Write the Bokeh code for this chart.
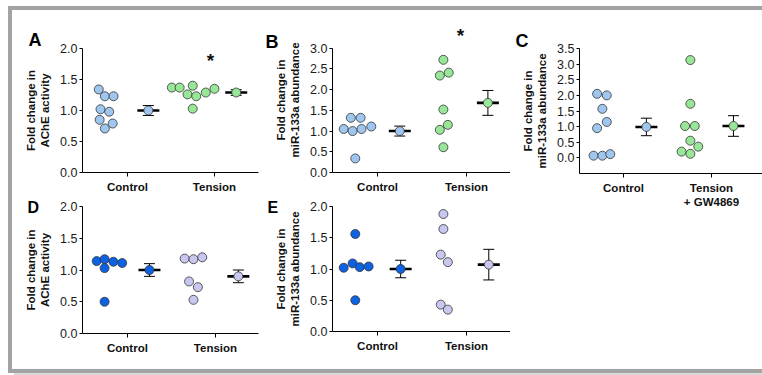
from bokeh.plotting import figure
from bokeh.layouts import row, column
from bokeh.models import (FixedTicker, Whisker, TeeHead, ColumnDataSource, Title,
                          NumeralTickFormatter, Range1d)
from bokeh.embed import file_html
from bokeh.resources import INLINE
from bokeh.core.properties import value

FONT = "Liberation Sans"
LIGHT_BLUE = "#9ec6ef"
GREEN = "#98e698"
DARK_BLUE = "#0d62e3"
LAVENDER = "#c7c7f0"
OUTLINE = "#333333"
FRAME_GRAY = "#a3a3a3"

# ---------------- data ----------------
tick_labels_ab = ["Control", "Tension"]
tick_labels_c = ["Control", "Tension\n+ GW4869"]

# Panel A: AChE activity
a_ctrl_x = [0.67, 0.74, 0.84, 0.69, 0.79, 0.68, 0.83, 0.74]
a_ctrl_y = [1.34, 1.23, 1.23, 1.02, 0.98, 0.85, 0.79, 0.71]
a_tens_x = [1.51, 1.60, 1.75, 1.69, 1.79, 1.90, 2.00, 1.75]
a_tens_y = [1.37, 1.37, 1.40, 1.26, 1.23, 1.29, 1.35, 1.03]
a_mean_x = [1.24, 2.25]
a_mean = [1.00, 1.29]
a_sem = [0.08, 0.045]
a_star = ([1.954], [1.81])

# Panel B: miR-133a abundance
b_ctrl_x = [0.62, 0.70, 0.81, 0.72, 0.82, 0.93, 0.75]
b_ctrl_y = [1.05, 1.32, 1.32, 1.00, 1.05, 1.11, 0.34]
b_tens_x = [1.74, 1.70, 1.80, 1.74, 1.70, 1.79, 1.74]
b_tens_y = [2.72, 2.34, 2.41, 1.52, 1.03, 1.15, 0.61]
b_mean_x = [1.25, 2.24]
b_mean = [1.00, 1.68]
b_sem = [0.12, 0.30]
b_star = ([1.932], [3.31])

# Panel C: miR-133a abundance, Tension + GW4869
c_ctrl_x = [0.66, 0.76, 0.85, 0.70, 0.81, 0.76, 0.70, 0.81]
c_ctrl_y = [0.07, 0.07, 0.12, 0.95, 1.15, 1.57, 2.05, 2.00]
c_tens_x = [1.76, 1.76, 1.70, 1.81, 1.76, 1.66, 1.76, 1.85]
c_tens_y = [3.13, 1.73, 1.02, 1.02, 0.55, 0.20, 0.13, 0.36]
c_mean_x = [1.26, 2.25]
c_mean = [0.99, 1.02]
c_sem = [0.28, 0.33]

# Panel D: AChE activity
d_ctrl_x = [0.65, 0.74, 0.84, 0.94, 0.74, 0.74]
d_ctrl_y = [1.14, 1.17, 1.13, 1.11, 1.03, 0.50]
d_tens_x = [1.65, 1.75, 1.85, 1.70, 1.80, 1.75]
d_tens_y = [1.18, 1.17, 1.20, 0.82, 0.73, 0.53]
d_mean_x = [1.25, 2.26]
d_mean = [1.00, 0.90]
d_sem = [0.10, 0.10]

# Panel E: miR-133a abundance
e_ctrl_x = [0.62, 0.72, 0.80, 0.90, 0.75, 0.75]
e_ctrl_y = [1.02, 1.09, 1.03, 1.04, 1.56, 0.50]
e_tens_x = [1.74, 1.74, 1.71, 1.79, 1.71, 1.79]
e_tens_y = [1.88, 1.64, 1.23, 1.11, 0.43, 0.35]
e_mean_x = [1.26, 2.25]
e_mean = [1.00, 1.07]
e_sem = [0.14, 0.245]


def make_panel(width, height, mb, xr, yr, yticks, ylabel, xlabels,
               groups, mean_x, means, sems, letter, letter_offset, letter_standoff,
               letter_size, ybounds=None, star=None):
    p = figure(width=width, height=height, x_range=Range1d(*xr), y_range=Range1d(*yr),
               output_backend="svg", toolbar_location=None,
               min_border_left=mb[0], min_border_right=mb[1],
               min_border_top=mb[2], min_border_bottom=mb[3])
    p.frame_align = False
    p.outline_line_color = None
    p.xgrid.visible = False
    p.ygrid.visible = False
    p.background_fill_color = "white"
    p.border_fill_color = "white"

    # x axis
    p.xaxis.ticker = FixedTicker(ticks=[1, 2])
    p.xaxis.major_label_overrides = {1: xlabels[0], 2: xlabels[1]}
    p.xaxis.major_label_text_font = FONT
    p.xaxis.major_label_text_font_size = "11.5px"
    p.xaxis.major_label_text_font_style = "bold"
    p.xaxis.major_label_text_color = "#111111"
    p.xaxis.major_tick_in = 0
    p.xaxis.major_tick_out = 4
    p.xaxis.minor_tick_line_color = None
    p.xaxis.major_label_standoff = 4
    p.xaxis.axis_line_color = "black"

    # y axis
    p.yaxis.ticker = FixedTicker(ticks=yticks)
    p.yaxis.formatter = NumeralTickFormatter(format="0.0")
    p.yaxis.major_label_text_font = FONT
    p.yaxis.major_label_text_font_size = "12.5px"
    p.yaxis.major_label_text_color = "#1a1a1a"
    p.yaxis.major_tick_in = 0
    p.yaxis.major_tick_out = 3
    p.yaxis.major_label_standoff = 2
    p.yaxis.minor_tick_line_color = None
    p.yaxis.axis_label = ylabel
    p.yaxis.axis_label_text_font = FONT
    p.yaxis.axis_label_text_font_size = "11.5px"
    p.yaxis.axis_label_text_font_style = "bold"
    p.yaxis.axis_label_text_color = "#111111"
    p.yaxis.axis_label_standoff = 6
    if ybounds is not None:
        p.yaxis.bounds = ybounds

    # error bars + means
    src = ColumnDataSource(dict(x=mean_x, m=means,
                                lo=[m - s for m, s in zip(means, sems)],
                                hi=[m + s for m, s in zip(means, sems)],
                                c=[g[2] for g in groups]))
    w = Whisker(source=src, base="x", lower="lo", upper="hi", dimension="height",
                line_color="black", line_width=1,
                upper_head=TeeHead(size=11, line_color="black", line_width=1),
                lower_head=TeeHead(size=11, line_color="black", line_width=1))
    p.add_layout(w)
    p.scatter("x", "m", source=src, marker="dash", size=22, line_width=2.6,
              line_color="black")
    for gx, gy, col in groups:
        p.scatter(gx, gy, size=9, fill_color=col, line_color=OUTLINE, line_width=0.8)
    p.scatter("x", "m", source=src, size=9, fill_color="c", line_color=OUTLINE,
              line_width=0.8)

    if star is not None:
        p.text(star[0], star[1], text=["*"], text_font=value(FONT),
               text_font_size="19px", text_font_style="bold", text_align="center",
               text_baseline="alphabetic", text_color="#111111")

    p.add_layout(Title(text=letter, align="left", offset=letter_offset,
                       standoff=letter_standoff, text_font=FONT,
                       text_font_size=letter_size, text_font_style="bold",
                       text_color="black"), "above")
    return p


pA = make_panel(250, 186, (70, 4, 38, 24), (0.483, 2.506), (0, 2.0),
                [0, 0.5, 1.0, 1.5, 2.0], "Fold change in\nAChE activity", tick_labels_ab,
                [(a_ctrl_x, a_ctrl_y, LIGHT_BLUE), (a_tens_x, a_tens_y, GREEN)],
                a_mean_x, a_mean, a_sem, "A", -54, -3, "18px", star=a_star)

pB = make_panel(248, 186, (70, 0, 17, 24), (0.494, 2.494), (0, 3.5),
                [0, 0.5, 1.0, 1.5, 2.0, 2.5, 3.0], "Fold change in\nmiR-133a abundance",
                tick_labels_ab,
                [(b_ctrl_x, b_ctrl_y, LIGHT_BLUE), (b_tens_x, b_tens_y, GREEN)],
                b_mean_x, b_mean, b_sem, "B", -67, -49, "18px",
                ybounds=(0, 3.0), star=b_star)

pC = make_panel(252, 359, (69, 0, 38, 196), (0.5, 2.58), (-0.5, 3.5),
                [0, 0.5, 1.0, 1.5, 2.0, 2.5, 3.0, 3.5], "Fold change in\nmiR-133a abundance",
                tick_labels_c,
                [(c_ctrl_x, c_ctrl_y, LIGHT_BLUE), (c_tens_x, c_tens_y, GREEN)],
                c_mean_x, c_mean, c_sem, "C", -64, -4, "18px")

pD = make_panel(250, 173, (70, 4, 10, 36), (0.489, 2.489), (0, 2.0),
                [0, 0.5, 1.0, 1.5, 2.0], "Fold change in\nAChE activity", tick_labels_ab,
                [(d_ctrl_x, d_ctrl_y, DARK_BLUE), (d_tens_x, d_tens_y, LAVENDER)],
                d_mean_x, d_mean, d_sem, "D", -55, -19, "16px")

pE = make_panel(248, 173, (70, 0, 10, 38), (0.494, 2.494), (0, 2.0),
                [0, 0.5, 1.0, 1.5, 2.0], "Fold change in\nmiR-133a abundance",
                tick_labels_ab,
                [(e_ctrl_x, e_ctrl_y, DARK_BLUE), (e_tens_x, e_tens_y, LAVENDER)],
                e_mean_x, e_mean, e_sem, "E", -65, -19, "16px")

left = column(row(pA, pB), row(pD, pE))
layout = row(left, pC, styles={
    "margin-left": "8px",
    "margin-top": "6px",
    "border-left": f"4px solid {FRAME_GRAY}",
    "border-top": f"4px solid {FRAME_GRAY}",
    "border-bottom": f"4px solid {FRAME_GRAY}",
    "border-right": "none",
    "box-shadow": "6px 2px 0 0 #dadada",
})

open("out.html", "w").write(file_html(layout, INLINE))
